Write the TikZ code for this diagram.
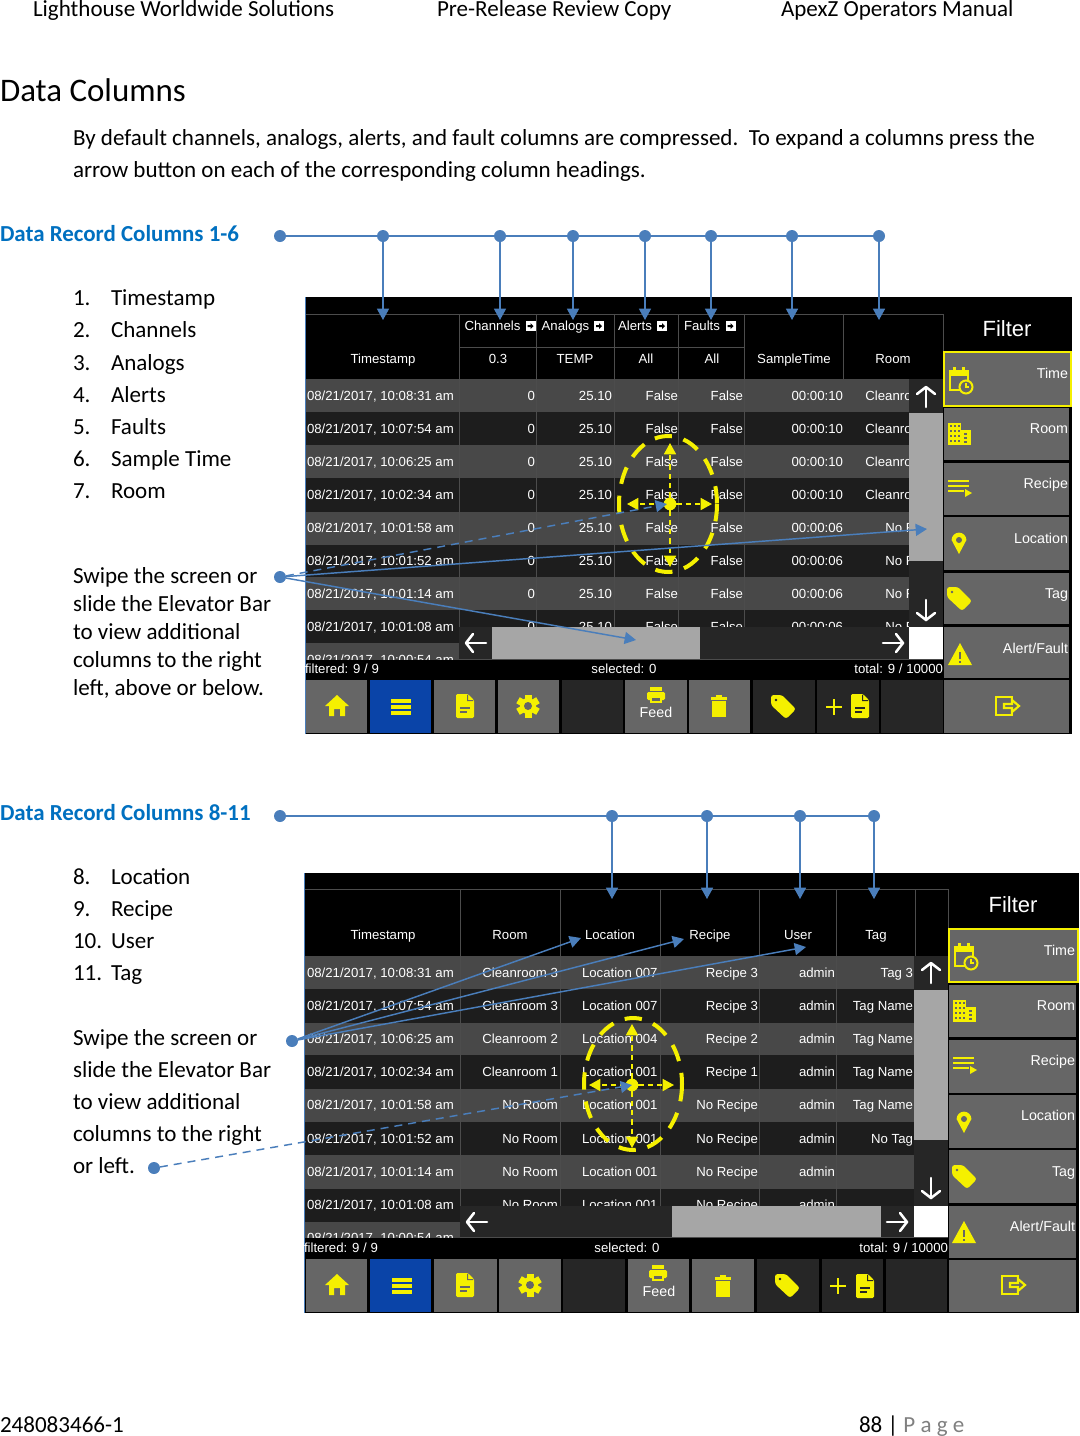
\documentclass[tikz,border=0pt]{standalone}
\usepackage{fontspec}
\setmainfont{Carlito}
\newfontfamily\arf{Liberation Sans}
\usetikzlibrary{arrows.meta}
\definecolor{lblue}{HTML}{4A7EBB}
\definecolor{hblue}{HTML}{0070C0}
\definecolor{ylw}{HTML}{F5F000}
\definecolor{btn}{HTML}{666666}
\definecolor{btnd}{HTML}{262626}
\definecolor{btnb}{HTML}{0A44A8}
\definecolor{rowL}{HTML}{484848}
\definecolor{rowD}{HTML}{1D1D1D}
\definecolor{thumb}{HTML}{A6A6A6}
\definecolor{gridl}{HTML}{4C4C4C}
\newcounter{tn}
\tikzset{
  txt/.style={inner sep=0pt,outer sep=0pt,text=black},
  body/.style={txt,font=\fontsize{17.28}{20}\selectfont,anchor=base west},
  secthead/.style={body,text=hblue,font=\fontsize{17.2}{20}\selectfont\bfseries},
  scr/.style={txt,text=white,font=\arf\fontsize{9.9}{12}\selectfont},
  lab/.style={txt,text=white,font=\arf\fontsize{10.7}{12}\selectfont},
  ttl/.style={txt,text=white,font=\arf\fontsize{16.5}{18}\selectfont,anchor=base},
  dot/.style={circle,fill=lblue,draw=none,minimum size=9pt,inner sep=0pt,outer sep=0pt},
  conn/.style={draw=lblue,line width=1.1pt},
  arr/.style={conn,-{Triangle[length=8.5pt,width=9pt]}},
  darr/.style={arr,dash pattern=on 6pt off 4.5pt},
  yring/.style={draw=ylw,line width=3pt,dash pattern=on 13pt off 9pt},
  ycross/.style={draw=ylw,line width=1.3pt,dash pattern=on 4pt off 3pt,-{Triangle[length=8.5pt,width=9pt]}},
  ydot/.style={circle,fill=ylw,minimum size=9.5pt,inner sep=0pt,outer sep=0pt},
  warr/.style={draw=white,line width=1.9pt,line cap=round,line join=round},
}
\newcommand{\tx}[4][body]{\stepcounter{tn}\node[#1] (t\arabic{tn}) at (#2,#3) {#4};}
\newcommand{\icHome}[3][btn]{\fill[ylw,shift={(#2,#3)}] (-12,0)--(0,-11)--(12,0)--(8,0)--(8,10)--(3,10)--(3,3)--(-3,3)--(-3,10)--(-8,10)--(-8,0)--cycle;}
\newcommand{\icList}[3][btn]{\begin{scope}[shift={(#2,#3)}]\foreach \q in {-7,-1,5}{\fill[ylw] (-10,\q) rectangle (10,\q+4);}\end{scope}}
\newcommand{\icDoc}[3][btn]{\begin{scope}[shift={(#2,#3)}]\fill[ylw,rounded corners=1pt] (-9,-12)--(3,-12)--(9,-6)--(9,12)--(-9,12)--cycle;\fill[#1] (-5,1) rectangle (5,3);\fill[#1] (-5,5) rectangle (2,7);\fill[#1] (2,-11)--(2,-5)--(8,-5)--(8,-6)--(3,-6)--(3,-11)--cycle;\end{scope}}
\newcommand{\icGear}[3][btn]{\begin{scope}[shift={(#2,#3)}]\foreach \q in {0,60,...,300}{\fill[ylw,rotate=\q] (-3.5,-11.5) rectangle (3.5,-5);}\fill[ylw] (0,0) circle[radius=8];\fill[#1] (0,0) circle[radius=4];\end{scope}}
\newcommand{\icPrint}[3][btn]{\begin{scope}[shift={(#2,#3)}]\fill[ylw,rounded corners=1pt] (-9,-3) rectangle (9,5);\fill[ylw] (-6,-8) rectangle (6,-4);\fill[ylw] (-6,2) rectangle (6,8);\fill[#1] (-4,3) rectangle (4,6);\end{scope}}
\newcommand{\icTrash}[3][btn]{\begin{scope}[shift={(#2,#3)}]\fill[ylw] (-8,-9) rectangle (8,-6);\fill[ylw] (-3,-11) rectangle (3,-8);\fill[ylw] (-7,-5) rectangle (7,11);\end{scope}}
\newcommand{\icTag}[3][btn]{\begin{scope}[shift={(#2,#3)}]\fill[ylw,rounded corners=2pt] (-12,-11)--(-1,-11)--(13,3)--(3,13)--(-12,-1)--cycle;\fill[#1] (-7,-6) circle[radius=1.3];\end{scope}}
\newcommand{\icPlus}[3][btn]{\begin{scope}[shift={(#2,#3)}]\fill[ylw] (-8,-1.3) rectangle (8,1.3);\fill[ylw] (-1.3,-8) rectangle (1.3,8);\end{scope}}
\newcommand{\icCal}[3][btn]{\begin{scope}[shift={(#2,#3)}]\draw[ylw,line width=1.7pt] (-10,-8) rectangle (8,11);\fill[ylw] (-10,-9) rectangle (8,-3);\fill[ylw] (-7,-12) rectangle (-4,-8);\fill[ylw] (2,-12) rectangle (5,-8);\fill[#1] (6,8) circle[radius=6.5];\draw[ylw,line width=1.5pt] (6,8) circle[radius=6.5];\draw[ylw,line width=.9pt] (6,4) -- (6,8) -- (9,8);\end{scope}}
\newcommand{\icBld}[3][btn]{\begin{scope}[shift={(#2,#3)}]\fill[ylw] (-11,-11) rectangle (2,11);\fill[ylw] (2,-4) rectangle (12,11);\foreach \qv in {-9,-4,1,6}{\foreach \qh in {-9,-5,-1}{\fill[#1] (\qh,\qv) rectangle (\qh+2.2,\qv+2.4);}}\foreach \qv in {-1,3,7}{\fill[#1] (5,\qv) rectangle (8,\qv+2);}\end{scope}}
\newcommand{\icRec}[3][btn]{\begin{scope}[shift={(#2,#3)}]\fill[ylw] (-11,-8) rectangle (10,-6);\fill[ylw] (-11,-3) rectangle (10,-1);\fill[ylw] (-11,2) rectangle (5,4);\fill[ylw] (6,1)--(13,5)--(6,9)--cycle;\end{scope}}
\newcommand{\icPin}[3][btn]{\begin{scope}[shift={(#2,#3)}]\fill[ylw] (-7.4,-2) arc[start angle=180,end angle=360,radius=7.4] -- (0,12) -- cycle;\fill[#1] (0,-2) circle[radius=3];\end{scope}}
\newcommand{\icWarn}[3][btn]{\begin{scope}[shift={(#2,#3)}]\fill[ylw] (0,-12)--(12,10)--(-12,10)--cycle;\fill[#1] (-1,-3) rectangle (1,4);\fill[#1] (-1,6) rectangle (1,8);\end{scope}}
\newcommand{\icExit}[3][btn]{\begin{scope}[shift={(#2,#3)}]\draw[ylw,line width=1.6pt] (5,-4)--(5,-9)--(-11,-9)--(-11,9)--(5,9)--(5,4);\draw[ylw,line width=1.6pt] (-3,-2)--(5,-2)--(5,-6)--(12,0)--(5,6)--(5,2)--(-3,2)--cycle;\end{scope}}
\newcommand{\wArrow}[3]{\begin{scope}[shift={(#1,#2)},rotate=#3]\draw[warr] (-10,0)--(10,0);\draw[warr] (3,-9)--(10,0)--(3,9);\end{scope}}
\newcommand{\hdrbox}[2]{\begin{scope}[shift={(#1,#2)}]\fill[white] (-5,-5) rectangle (5,5);\fill[black] (-3,-1)--(0,-1)--(0,-3)--(3,0)--(0,3)--(0,1)--(-3,1)--cycle;\end{scope}}
\begin{document}
\begin{tikzpicture}[x=.75pt,y=-.75pt]
\useasboundingbox (0,0) rectangle (1079,1436);
% ---------- page text
\tx{33}{16}{Lighthouse Worldwide Solutions}
\tx{437}{16}{Pre-Release Review Copy}
\tx{781}{16}{ApexZ Operators Manual}
\tx[body,font=\fontsize{24.7}{28}\selectfont]{0}{101}{Data Columns}
\tx{73}{145}{By default channels, analogs, alerts, and fault columns are compressed.\ \ To expand a columns press the}
\tx{73}{177}{arrow button on each of the corresponding column headings.}
\tx[secthead]{0}{241}{Data Record Columns 1-6}
\foreach \nn/\nw/\ny in {1/Timestamp/305,2/Channels/337,3/Analogs/370,4/Alerts/402,5/Faults/434,6/Sample Time/466,7/Room/498}{
  \tx{73}{\ny}{\nn.}\tx{111}{\ny}{\nw}}
\tx{73}{583}{Swipe the screen or}
\tx{73}{611}{slide the Elevator Bar}
\tx{73}{639}{to view additional}
\tx{73}{667}{columns to the right}
\tx{73}{695}{left, above or below.}
\tx[secthead]{0}{820}{Data Record Columns 8-11}
\foreach \nn/\nw/\ny in {8/Location/884,9/Recipe/916,10/User/948,11/Tag/980}{
  \tx{73}{\ny}{\nn.}\tx{111}{\ny}{\nw}}
\tx{73}{1045}{Swipe the screen or}
\tx{73}{1077}{slide the Elevator Bar}
\tx{73}{1109}{to view additional}
\tx{73}{1141}{columns to the right}
\tx{73}{1173}{or left.}
\tx{0}{1432}{248083466-1}
\tx{859}{1432}{88 | {\color{gray}P a g e}}
% ========== SCREEN 1
\fill[black] (305,297) rectangle (1072,734);
\begin{scope}
\clip (305,379) rectangle (459,659);
\foreach \ra/\rb/\rc in {379/412/rowL,412/445/rowD,445/478/rowL,478/512/rowD,512/545/rowL,545/577/rowD,577/610/rowL,610/643/rowD,643/660/rowL}{\fill[\rc] (305,\ra) rectangle (459,\rb);}
\foreach \ny/\tm in {400/10:08:31 am,433/10:07:54 am,466/10:06:25 am,499/10:02:34 am,532/10:01:58 am,565/10:01:52 am,598/10:01:14 am,631/10:01:08 am,664/10:00:54 am}{
  \tx[scr,anchor=base west]{307}{\ny}{08/21/2017, \tm}}
\end{scope}
\begin{scope}
\clip (459,379) rectangle (909,627);
\foreach \ra/\rb/\rc in {379/412/rowL,412/445/rowD,445/478/rowL,478/512/rowD,512/545/rowL,545/577/rowD,577/610/rowL,610/643/rowD}{\fill[\rc] (459,\ra) rectangle (909,\rb);}
\foreach \nx in {536,614,678,744}{\draw[gridl,line width=.4pt] (\nx,379)--(\nx,627);}
\foreach \ny/\qst/\qrm in {400/00:00:10/Cleanroom 3,433/00:00:10/Cleanroom 3,466/00:00:10/Cleanroom 3,499/00:00:10/Cleanroom 3,532/00:00:06/No Room,565/00:00:06/No Room,598/00:00:06/No Room,631/00:00:06/No Room}{
  \tx[scr,anchor=base east]{535}{\ny}{0}
  \tx[scr,anchor=base east]{612}{\ny}{25.10}
  \tx[scr,anchor=base east]{678}{\ny}{False}
  \tx[scr,anchor=base east]{743}{\ny}{False}
  \tx[scr,anchor=base east]{843}{\ny}{\qst}
  \tx[scr,anchor=base east]{941}{\ny}{\qrm}}
\end{scope}
% header grid
\foreach \nx in {305,459,536,614,678,744,843,943}{\draw[gridl,line width=.7pt] (\nx,314)--(\nx,379);}
\draw[gridl,line width=.7pt] (305,314)--(943,314);
\draw[gridl,line width=.7pt] (459,347)--(744,347);
\draw[gridl,line width=.7pt] (459,379)--(459,659);
\tx[scr,anchor=base]{492.5}{330}{Channels}\hdrbox{530.5}{326}
\tx[scr,anchor=base]{565.5}{330}{Analogs}\hdrbox{599}{326}
\tx[scr,anchor=base]{635}{330}{Alerts}\hdrbox{662}{326}
\tx[scr,anchor=base]{702}{330}{Faults}\hdrbox{730.5}{326}
\foreach \nx/\qs in {383/Timestamp,498/0.3,575/TEMP,646/All,712/All,794/SampleTime,893/Room}{\tx[scr,anchor=base]{\nx}{363}{\qs}}
% scrollbars
\fill[btnd] (459,627) rectangle (909,659);
\fill[btnd] (909,379) rectangle (943,627);
\fill[thumb] (492,627) rectangle (700,659);
\fill[thumb] (909,413) rectangle (943,561);
\fill[white] (909,627) rectangle (943,659);
\wArrow{926}{397}{90}\wArrow{926}{610}{-90}\wArrow{476}{643}{180}\wArrow{893}{643}{0}
\draw[gridl,line width=.7pt] (459,659)--(943,659);
\draw[lblue,line width=.6pt] (305,297)--(305,734);
% status
\tx[scr,anchor=base west]{305}{673}{filtered: 9 / 9}
\tx[scr,anchor=base]{624}{673}{selected: 0}
\tx[scr,anchor=base east]{943}{673}{total: 9 / 10000}
% buttons
\foreach \ra/\rb/\rc in {306/367/btn,370/431/btnb,434/495/btn,498/559/btn,562/623/btnd,625/687/btn,689/750/btn,753/815/btnd,817/879/btnd,881/943/btnd}{\fill[\rc] (\ra,680) rectangle (\rb,733);}
\foreach \ra/\rb in {408/460,463/515,517/570,573/624,627/678,680/733}{\fill[btn] (944,\ra) rectangle (1069,\rb);}
\fill[btn] (944,352) rectangle (1071,406);
\draw[ylw,line width=1pt] (944,352) rectangle (1071,406);
\tx[ttl]{1007}{336}{Filter}
\foreach \qs/\ny in {Time/378,Room/433,Recipe/488,Location/543,Tag/598,{Alert/Fault}/653}{\tx[lab,anchor=base east]{1068}{\ny}{\qs}}
\tx[lab,anchor=base]{656}{717}{Feed}
\icHome{337}{706}\icList[btnb]{401}{706}\icDoc{465}{706}\icGear{528}{706}\icPrint{656}{695}\icTrash{719}{706}
\icTag[btnd]{783}{706}\icPlus[btnd]{834}{707}\icDoc[btnd]{860}{706}\icExit{1007}{706}
\icCal{960}{379}\icBld{959}{434}\icRec{959}{488}\icPin{959}{542}\icTag{959}{598}\icWarn{960}{655}
% ========== SCREEN 2
\fill[black] (304,873) rectangle (1079,1313);
\begin{scope}
\clip (304,956) rectangle (460,1237);
\foreach \ra/\rb/\rc in {956/989/rowL,989/1023/rowD,1023/1055/rowL,1055/1089/rowD,1089/1122/rowL,1122/1155/rowD,1155/1189/rowL,1189/1222/rowD,1222/1238/rowL}{\fill[\rc] (304,\ra) rectangle (460,\rb);}
\foreach \ny/\tm in {977/10:08:31 am,1010/10:07:54 am,1043/10:06:25 am,1076/10:02:34 am,1109/10:01:58 am,1143/10:01:52 am,1176/10:01:14 am,1209/10:01:08 am,1242/10:00:54 am}{
  \tx[scr,anchor=base west]{307}{\ny}{08/21/2017, \tm}}
\end{scope}
\begin{scope}
\clip (460,956) rectangle (914,1206);
\foreach \ra/\rb/\rc in {956/989/rowL,989/1023/rowD,1023/1055/rowL,1055/1089/rowD,1089/1122/rowL,1122/1155/rowD,1155/1189/rowL,1189/1222/rowD}{\fill[\rc] (460,\ra) rectangle (914,\rb);}
\foreach \nx in {560,660,759,836}{\draw[gridl,line width=.4pt] (\nx,956)--(\nx,1206);}
\foreach \ny/\qro/\qlo/\qre/\qta in {977/Cleanroom 3/007/Recipe 3/Tag 3,1010/Cleanroom 3/007/Recipe 3/Tag Name,1043/Cleanroom 2/004/Recipe 2/Tag Name,1076/Cleanroom 1/001/Recipe 1/Tag Name,1109/No Room/001/No Recipe/Tag Name,1143/No Room/001/No Recipe/No Tag,1176/No Room/001/No Recipe/{},1209/No Room/001/No Recipe/{}}{
  \tx[scr,anchor=base east]{558}{\ny}{\qro}
  \tx[scr,anchor=base west]{582}{\ny}{Location \qlo}
  \tx[scr,anchor=base east]{758}{\ny}{\qre}
  \tx[scr,anchor=base east]{835}{\ny}{admin}
  \tx[scr,anchor=base east]{913}{\ny}{\qta}}
\end{scope}
\foreach \nx in {304,460,560,660,759,836,915,948}{\draw[gridl,line width=.7pt] (\nx,889)--(\nx,956);}
\draw[gridl,line width=.7pt] (304,889)--(948,889);
\draw[gridl,line width=.7pt] (460,956)--(460,1237);
\foreach \nx/\qs in {383/Timestamp,510/Room,610/Location,710/Recipe,798/User,876/Tag}{\tx[scr,anchor=base]{\nx}{939}{\qs}}
\fill[btnd] (460,1206) rectangle (914,1237);
\fill[btnd] (914,956) rectangle (948,1206);
\fill[thumb] (672,1206) rectangle (881,1237);
\fill[thumb] (914,990) rectangle (948,1140);
\fill[white] (914,1206) rectangle (948,1237);
\wArrow{931}{973}{90}\wArrow{931}{1188}{-90}\wArrow{477}{1222}{180}\wArrow{897}{1222}{0}
\draw[gridl,line width=.7pt] (460,1237)--(948,1237);
\draw[lblue,line width=.6pt] (304,873)--(304,1313);
\tx[scr,anchor=base west]{304}{1252}{filtered: 9 / 9}
\tx[scr,anchor=base]{627}{1252}{selected: 0}
\tx[scr,anchor=base east]{948}{1252}{total: 9 / 10000}
\foreach \ra/\rb/\rc in {306/367/btn,370/431/btnb,434/497/btn,499/561/btn,563/625/btnd,628/689/btn,692/754/btn,757/819/btnd,822/883/btnd,886/947/btnd}{\fill[\rc] (\ra,1259) rectangle (\rb,1312);}
\foreach \ra/\rb in {985/1037,1040/1093,1095/1148,1150/1203,1206/1258,1260/1312}{\fill[btn] (949,\ra) rectangle (1076,\rb);}
\fill[btn] (949,929) rectangle (1078,982);
\draw[ylw,line width=1pt] (949,929) rectangle (1078,982);
\tx[ttl]{1013}{912}{Filter}
\foreach \qs/\ny in {Time/955,Room/1010,Recipe/1065,Location/1120,Tag/1176,{Alert/Fault}/1231}{\tx[lab,anchor=base east]{1075}{\ny}{\qs}}
\tx[lab,anchor=base]{659}{1296}{Feed}
\icHome{337}{1285}\icList[btnb]{402}{1285}\icDoc{465}{1285}\icGear{530}{1285}\icPrint{658}{1273}\icTrash{723}{1286}
\icTag[btnd]{787}{1285}\icPlus[btnd]{838}{1286}\icDoc[btnd]{865}{1286}\icExit{1013}{1285}
\icCal{965}{955}\icBld{964}{1011}\icRec{964}{1065}\icPin{964}{1121}\icTag{964}{1176}\icWarn{964}{1233}
% ---------- yellow swipe marks, screen 1
\draw[yring] (668,504) ellipse[x radius=49,y radius=68];
\node[ydot] (c1) at (670,504) {};
\coordinate (cu1) at (670,443);\coordinate (cd1) at (670,567);\coordinate (cl1) at (627,504);\coordinate (cr1) at (712,504);
\foreach \qe in {cu1,cd1,cl1,cr1}{\draw[ycross] (c1) -- (\qe);}
% ---------- yellow swipe marks, screen 2
\draw[yring] (633,1084) ellipse[x radius=49,y radius=66];
\node[ydot] (c2) at (632,1085) {};
\coordinate (cu2) at (632,1024);\coordinate (cd2) at (632,1148);\coordinate (cl2) at (589,1085);\coordinate (cr2) at (674,1085);
\foreach \qe in {cu2,cd2,cl2,cr2}{\draw[ycross] (c2) -- (\qe);}
% ---------- blue callouts, top
\node[dot] (a0) at (280,236) {};
\foreach \ii/\nx in {1/383,2/500,3/573,4/645,5/711,6/792,7/879}{
  \node[dot] (a\ii) at (\nx,236) {};
  \coordinate (at\ii) at (\nx,320);
  \draw[arr] (a\ii) -- (at\ii);}
\draw[conn] (a0)--(a1)--(a2)--(a3)--(a4)--(a5)--(a6)--(a7);
\node[dot] (s1) at (280,577) {};
\coordinate (s1a) at (636,640);\coordinate (s1b) at (927,529);\coordinate (s1c) at (667,504);
\draw[arr] (s1) -- (s1a);\draw[arr] (s1) -- (s1b);\draw[darr] (s1) -- (s1c);
% ---------- blue callouts, bottom
\node[dot] (b0) at (280,816) {};
\foreach \ii/\nx in {1/612,2/707,3/800,4/874}{
  \node[dot] (b\ii) at (\nx,816) {};
  \coordinate (bt\ii) at (\nx,899);
  \draw[arr] (b\ii) -- (bt\ii);}
\draw[conn] (b0)--(b1)--(b2)--(b3)--(b4);
\node[dot] (s2) at (292,1041) {};
\coordinate (s2a) at (581,938);\coordinate (s2b) at (684,939);\coordinate (s2c) at (806,947);
\draw[arr] (s2) -- (s2a);\draw[arr] (s2) -- (s2b);\draw[arr] (s2) -- (s2c);
\node[dot] (s3) at (154,1168) {};
\coordinate (s3a) at (632,1085);
\draw[darr] (s3) -- (s3a);
\end{tikzpicture}
\end{document}
